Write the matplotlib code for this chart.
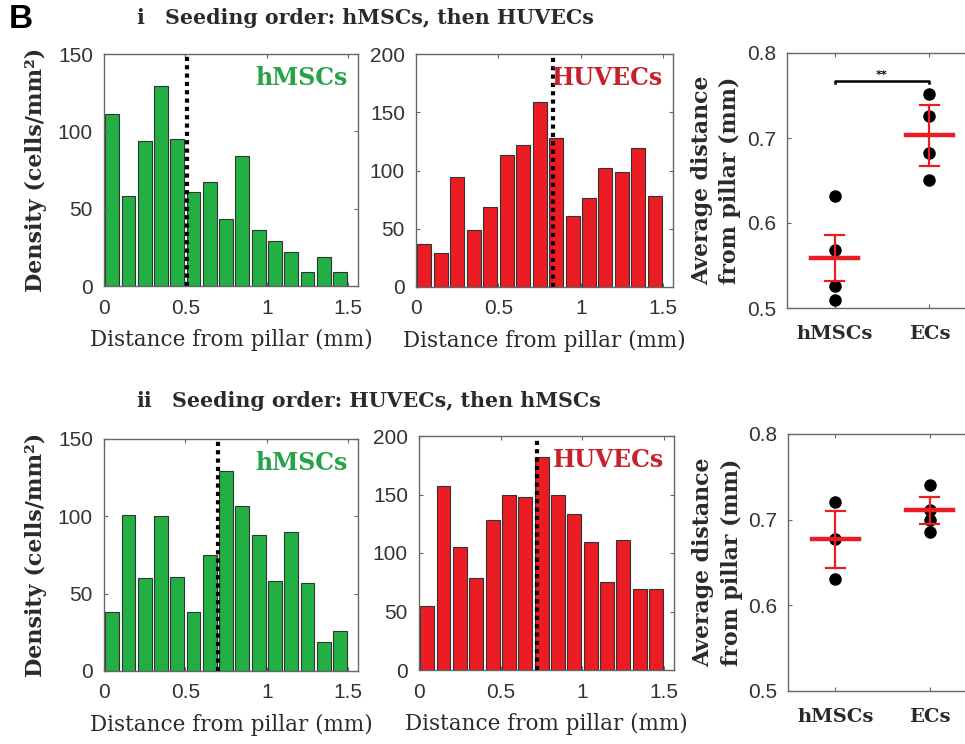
import numpy as np
import matplotlib
matplotlib.use('Agg')
import matplotlib.pyplot as plt

# 数据
bin_centers = np.arange(15) * 0.1 + 0.05

msc_first_msc = [111, 58, 94, 129, 95, 61, 67, 43, 84, 36, 29, 22, 9, 19, 9]
msc_first_huvec = [37, 29, 94, 49, 69, 113, 122, 159, 128, 61, 76, 102, 99, 119, 78]
huvec_first_msc = [38, 101, 60, 100, 61, 38, 75, 129, 107, 88, 58, 90, 57, 19, 26]
huvec_first_huvec = [55, 157, 105, 79, 128, 150, 148, 182, 150, 133, 109, 75, 111, 69, 69]

# 虚线位置 (平均距离)
msc_first_lines = [0.51, 0.83]
huvec_first_lines = [0.70, 0.72]

groups = ['hMSCs', 'ECs']
msc_first_pts = [[0.632, 0.568, 0.526, 0.510], [0.752, 0.726, 0.682, 0.651]]
msc_first_mean = [0.559, 0.703]
msc_first_sem = [0.027, 0.036]
huvec_first_pts = [[0.721, 0.678, 0.631], [0.740, 0.711, 0.700, 0.686]]
huvec_first_mean = [0.677, 0.711]
huvec_first_sem = [0.033, 0.016]

GREEN = '#22b045'
GREEN_TXT = '#26a347'
RED = '#ec1c24'
RED_TXT = '#c8202a'
FRAME = '#666666'
TXT = '#2a2a2a'

W, H = 965, 744
fig = plt.figure(figsize=(W / 100, H / 100), dpi=100)

SERIF = 'DejaVu Serif'
SANS = 'Liberation Sans'


def px_axes(l, t, r, b):
    return fig.add_axes([l / W, 1 - b / H, (r - l) / W, (b - t) / H])


def style_axes(ax):
    for s in ax.spines.values():
        s.set_color(FRAME)
        s.set_linewidth(1.0)
    ax.tick_params(direction='in', length=3, width=0.8, color=FRAME,
                   top=True, right=True, labelsize=15, pad=8)
    for lab in ax.get_xticklabels() + ax.get_yticklabels():
        lab.set_fontfamily(SANS)
        lab.set_color('#333333')


def hist_panel(ax, values, color, label, label_color, line_x, ymax, yticks, ylabel):
    ax.bar(bin_centers, values, width=0.085, color=color, edgecolor='#333333', linewidth=0.8)
    ax.axvline(line_x, color='black', linestyle=(0, (1, 1)), linewidth=3)
    ax.set_xlim(0, 1.56)
    ax.set_ylim(0, ymax)
    ax.set_xticks([0, 0.5, 1, 1.5])
    ax.set_xticklabels(['0', '0.5', '1', '1.5'])
    ax.set_yticks(yticks)
    style_axes(ax)
    ax.tick_params(axis='x', pad=9)
    ax.set_xlabel('Distance from pillar (mm)', fontfamily=SERIF, fontsize=15.5, labelpad=8, color=TXT)
    if ylabel:
        ax.set_ylabel('Density (cells/mm²)', fontfamily=SERIF, fontsize=16, fontweight='bold', color=TXT)
        ax.yaxis.set_label_coords(-0.225, 0.5)
    ax.text(0.96, 0.95, label, transform=ax.transAxes, ha='right', va='top',
            fontfamily=SERIF, fontsize=17, fontweight='bold', color=label_color)


def scatter_panel(ax, pts, mean, sem, sig):
    xs = np.arange(1, len(groups) + 1)
    for x, p in zip(xs, pts):
        ax.plot([x] * len(p), p, 'o', color='black', markersize=8, zorder=2)
    for x, m, s in zip(xs, mean, sem):
        ax.plot([x - 0.25, x + 0.25], [m, m], color=RED, linewidth=3.2, zorder=3)
        ax.plot([x, x], [m - s, m + s], color=RED, linewidth=1.6, zorder=3)
        ax.plot([x - 0.1, x + 0.1], [m + s, m + s], color=RED, linewidth=1.6, zorder=3)
        ax.plot([x - 0.1, x + 0.1], [m - s, m - s], color=RED, linewidth=1.6, zorder=3)
    if sig:
        y = 0.767
        ax.plot([1, 1, 2, 2], [y - 0.002, y, y, y - 0.002], color='black', linewidth=1.8)
        ax.text(1.5, y + 0.001, '**', ha='center', va='bottom', fontsize=8, fontweight='bold')
    ax.set_xlim(0.5, 2.5)
    ax.set_ylim(0.5, 0.8)
    ax.set_xticks(xs)
    ax.set_yticks([0.5, 0.6, 0.7, 0.8])
    style_axes(ax)
    ax.set_xticklabels(groups, fontfamily=SERIF, fontweight='bold', fontsize=14, color=TXT)
    ax.tick_params(axis='x', pad=12)
    ax.set_ylabel('Average distance\nfrom pillar (mm)', fontfamily=SERIF, fontsize=15.8,
                  fontweight='bold', color=TXT, linespacing=1.35)
    ax.yaxis.set_label_coords(-0.24, 0.5)


# 第一行
ax1 = px_axes(104, 54, 358, 286)
hist_panel(ax1, msc_first_msc, GREEN, 'hMSCs', GREEN_TXT, msc_first_lines[0], 150, [0, 50, 100, 150], True)
ax2 = px_axes(416, 54, 673, 287)
hist_panel(ax2, msc_first_huvec, RED, 'HUVECs', RED_TXT, msc_first_lines[1], 200, [0, 50, 100, 150, 200], False)
ax3 = px_axes(787, 53, 977, 308)
scatter_panel(ax3, msc_first_pts, msc_first_mean, msc_first_sem, True)

# 第二行
ax4 = px_axes(104, 439, 358, 671)
hist_panel(ax4, huvec_first_msc, GREEN, 'hMSCs', GREEN_TXT, huvec_first_lines[0], 150, [0, 50, 100, 150], True)
ax5 = px_axes(419, 436, 674, 670)
hist_panel(ax5, huvec_first_huvec, RED, 'HUVECs', RED_TXT, huvec_first_lines[1], 200, [0, 50, 100, 150, 200], False)
ax6 = px_axes(788, 434, 977, 691)
scatter_panel(ax6, huvec_first_pts, huvec_first_mean, huvec_first_sem, False)

# 标题
fig.text(21 / W, 1 - 20 / H, 'B', ha='center', va='center', fontfamily=SANS, fontsize=24, fontweight='bold')
fig.text(136 / W, 1 - 18 / H, 'i', ha='left', va='center', fontfamily=SERIF, fontsize=14.8, fontweight='bold', color=TXT)
fig.text(165 / W, 1 - 18 / H, 'Seeding order: hMSCs, then HUVECs', ha='left', va='center',
         fontfamily=SERIF, fontsize=14.8, fontweight='bold', color=TXT)
fig.text(136 / W, 1 - 401 / H, 'ii', ha='left', va='center', fontfamily=SERIF, fontsize=14.8, fontweight='bold', color=TXT)
fig.text(172 / W, 1 - 401 / H, 'Seeding order: HUVECs, then hMSCs', ha='left', va='center',
         fontfamily=SERIF, fontsize=14.8, fontweight='bold', color=TXT)

fig.savefig('out.png', dpi=100)
